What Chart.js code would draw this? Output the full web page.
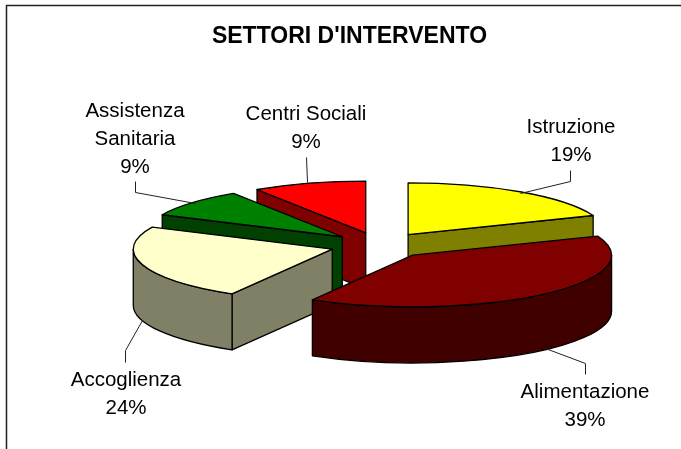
<!DOCTYPE html>
<html>
<head>
<meta charset="utf-8">
<title>Settori d'intervento</title>
<script src="https://cdn.jsdelivr.net/npm/chart.js@4/dist/chart.umd.min.js"></script>
<style>
  html, body { margin: 0; padding: 0; background: #fff; }
  #wrap { position: relative; width: 681px; height: 449px; }
</style>
</head>
<body>
<div id="wrap"><canvas id="pie"></canvas></div>
<script>
// ── Data ──
const chartTitle = "SETTORI D'INTERVENTO";
const categories = ['Istruzione', 'Alimentazione', 'Accoglienza', 'Assistenza Sanitaria', 'Centri Sociali'];
const shares = [19, 39.4, 23.6, 8.8, 9.2];

// ── Style ──
const topColors = ['#FFFF00', '#800000', '#FFFFCC', '#008000', '#FF0000'];
const sideColors = ['#808000', '#400000', '#808066', '#004000', '#800000'];
const FONT = "'Liberation Sans', Arial, sans-serif";
const TILT = 0.26;       // y squash of the pie disc
const DEPTH = 56;        // height of the walls
const EXPLODE = 50;      // how far slices are pulled out
const RADIUS = 199;
const SHIFT_X = 30.5;    // title is centred at 349.5, the pie at 380
const PAINT_ORDER = [4, 3, 0, 2, 1];

// label text blocks and their leader lines, one entry per category
const labelBlocks = [
  { x: 571, y: 127, lines: ['Istruzione', '19%'], leader: [[570, 170], [570, 181], [520, 193]] },
  { x: 585, y: 392, lines: ['Alimentazione', '39%'], leader: [[585, 374], [585, 363], [545, 348]] },
  { x: 126, y: 380, lines: ['Accoglienza', '24%'], leader: [[125, 362], [125, 350], [142, 320]] },
  { x: 135, y: 111, lines: ['Assistenza', 'Sanitaria', '9%'], leader: [[135, 181], [135, 192], [195, 203]] },
  { x: 306, y: 114, lines: ['Centri Sociali', '9%'], leader: [[306, 157], [307, 182]] },
];

function sliceGeometry(arc, chart) {
  const p = arc.getProps(['x', 'y', 'startAngle', 'endAngle', 'outerRadius'], true);
  const mid = (p.startAngle + p.endAngle) / 2;
  return {
    cx: p.x + SHIFT_X + Math.cos(mid) * EXPLODE,
    cy: p.y + Math.sin(mid) * EXPLODE * TILT,
    r: p.outerRadius,
    a0: p.startAngle,
    a1: p.endAngle,
  };
}

function rimPoint(g, a) {
  return [g.cx + Math.cos(a) * g.r, g.cy + Math.sin(a) * g.r * TILT];
}

function paintPath(ctx, fill) {
  ctx.fillStyle = fill;
  ctx.fill();
  ctx.stroke();
}

function drawCut(ctx, g, a, fill) {
  const [x, y] = rimPoint(g, a);
  ctx.beginPath();
  ctx.moveTo(g.cx, g.cy);
  ctx.lineTo(x, y);
  ctx.lineTo(x, y + DEPTH);
  ctx.lineTo(g.cx, g.cy + DEPTH);
  ctx.closePath();
  paintPath(ctx, fill);
}

function drawSlice(ctx, g, top, side) {
  // cut faces, only the ones turned towards the viewer
  if (Math.sin(g.a0 - Math.PI / 2) > 0.001) drawCut(ctx, g, g.a0, side);
  if (Math.sin(g.a1 + Math.PI / 2) > 0.001) drawCut(ctx, g, g.a1, side);

  // outer wall, only the front half of the rim
  const from = Math.max(g.a0, 0);
  const to = Math.min(g.a1, Math.PI);
  if (to > from) {
    ctx.beginPath();
    ctx.ellipse(g.cx, g.cy, g.r, g.r * TILT, 0, from, to);
    ctx.ellipse(g.cx, g.cy + DEPTH, g.r, g.r * TILT, 0, to, from, true);
    ctx.closePath();
    paintPath(ctx, side);
  }

  // top face
  ctx.beginPath();
  ctx.moveTo(g.cx, g.cy);
  ctx.ellipse(g.cx, g.cy, g.r, g.r * TILT, 0, g.a0, g.a1);
  ctx.closePath();
  paintPath(ctx, top);
}

const pie3d = {
  id: 'pie3d',
  // replaces the flat arcs, geometry still comes from the controller
  beforeDatasetDraw(chart, args) {
    const ctx = chart.ctx;
    const arcs = chart.getDatasetMeta(args.index).data;
    ctx.save();
    ctx.strokeStyle = '#000';
    ctx.lineWidth = 1.3;
    ctx.lineJoin = 'round';
    PAINT_ORDER.forEach(i => {
      drawSlice(ctx, sliceGeometry(arcs[i], chart), topColors[i], sideColors[i]);
    });
    ctx.restore();
    return false;
  },
  afterDraw(chart) {
    const ctx = chart.ctx;
    ctx.save();

    // frame, the picture is cropped on the right and at the bottom
    ctx.strokeStyle = '#222';
    ctx.lineWidth = 1.5;
    ctx.beginPath();
    ctx.moveTo(6.5, 449);
    ctx.lineTo(6.5, 5.5);
    ctx.lineTo(681, 5.5);
    ctx.stroke();

    // leader lines and labels
    ctx.strokeStyle = '#222';
    ctx.lineWidth = 1;
    ctx.fillStyle = '#000';
    ctx.font = `20.5px ${FONT}`;
    ctx.textAlign = 'center';
    ctx.textBaseline = 'middle';
    labelBlocks.forEach(b => {
      ctx.beginPath();
      b.leader.forEach(([x, y], i) => (i ? ctx.lineTo(x + 0.5, y + 0.5) : ctx.moveTo(x + 0.5, y + 0.5)));
      ctx.stroke();
      b.lines.forEach((t, i) => ctx.fillText(t, b.x, b.y + i * 28));
    });
    ctx.restore();
  },
};

new Chart(document.getElementById('pie'), {
  type: 'pie',
  data: {
    labels: categories,
    datasets: [{ data: shares, backgroundColor: topColors, borderWidth: 0 }],
  },
  options: {
    responsive: true,
    maintainAspectRatio: false,
    animation: false,
    radius: RADIUS,
    layout: { padding: { left: 18, bottom: 9 } },
    plugins: {
      legend: { display: false },
      tooltip: { enabled: false },
      title: {
        display: true,
        text: chartTitle,
        color: '#000',
        font: { family: FONT, size: 23, weight: 'bold', lineHeight: 1.2 },
        padding: { top: 23, bottom: 0 },
      },
    },
  },
  plugins: [pie3d],
});
</script>
</body>
</html>
